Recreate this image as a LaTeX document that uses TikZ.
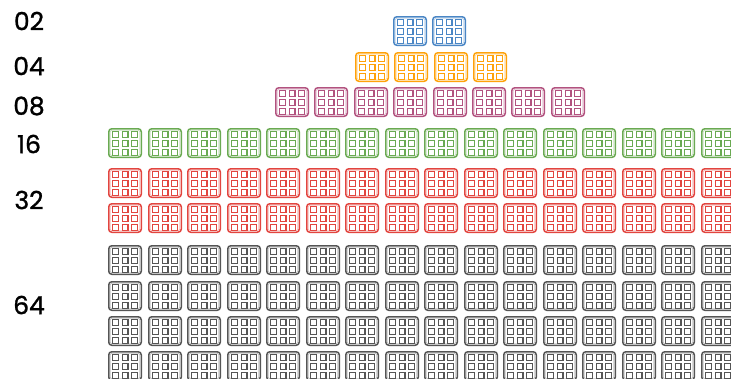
\documentclass[tikz,border=0pt]{standalone}
\usepackage{fontspec}
\setmainfont{Poppins}
\newfontfamily\lblfont{Poppins}[FakeBold=1.2]
\definecolor{cblue}{HTML}{4A86C5}
\definecolor{corange}{HTML}{FFA20A}
\definecolor{cpurple}{HTML}{B2527F}
\definecolor{cgreen}{HTML}{6AAA52}
\definecolor{cred}{HTML}{E2453F}
\definecolor{cgray}{HTML}{555555}
\newcommand{\chipicon}[3]{%
  \begin{scope}[shift={(#1,#2)}]
    \draw[#3, line width=1.5bp, rounded corners=3bp] (0.75,0.75) rectangle (33.25,29.25);
    \draw[#3!35, line width=0.8bp, rounded corners=2bp] (2.2,2.2) rectangle (31.8,27.8);
    \foreach \cx in {7.5,17,26.5}{
      \foreach \cy in {6.5,15.5,24.5}{
        \draw[#3, line width=1.2bp] (\cx-2.9,\cy-2.7) rectangle (\cx+2.9,\cy+2.7);
      }
    }
  \end{scope}}
\tikzset{lbl/.style={font=\lblfont\fontsize{25}{25}\selectfont, text=black, anchor=center, inner sep=0pt}}
\begin{document}
\begin{tikzpicture}[x=1bp,y=-1bp]
\useasboundingbox (0,0) rectangle (731,378);
\clip (0,0) rectangle (731,378);
% labels
\node[lbl] (l02) at (29,21) {02};
\node[lbl] (l04) at (29,66) {04};
\node[lbl] (l08) at (29,106) {08};
\node[lbl] (l16) at (29,144) {16};
\node[lbl] (l32) at (29,200) {32};
\node[lbl] (l64) at (29,305) {64};
% 02
\foreach \k [evaluate=\k as \xx using {round(393+\k*39.4)}] in {0,1} {\chipicon{\xx}{16}{cblue}}
% 04
\foreach \k [evaluate=\k as \xx using {round(355+\k*39.4)}] in {0,...,3} {\chipicon{\xx}{52}{corange}}
% 08
\foreach \k [evaluate=\k as \xx using {round(275+\k*39.4)}] in {0,...,7} {\chipicon{\xx}{87}{cpurple}}
% 16
\foreach \k [evaluate=\k as \xx using {round(108+\k*39.5)}] in {0,...,15} {\chipicon{\xx}{128}{cgreen}}
% 32
\foreach \r in {168,203}{
  \foreach \k [evaluate=\k as \xx using {round(108+\k*39.5)}] in {0,...,15} {\chipicon{\xx}{\r}{cred}}}
% 64
\foreach \r in {245,281,316,351}{
  \foreach \k [evaluate=\k as \xx using {round(108+\k*39.5)}] in {0,...,15} {\chipicon{\xx}{\r}{cgray}}}
\end{tikzpicture}
\end{document}
